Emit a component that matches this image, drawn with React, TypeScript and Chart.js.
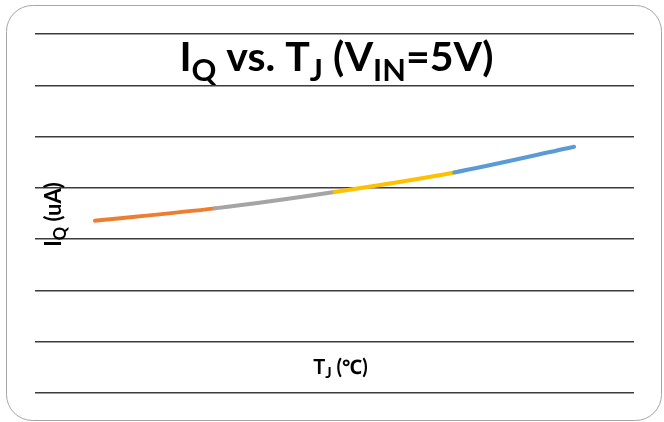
import React, { useEffect, useRef } from 'react';
import { Chart, registerables } from 'chart.js';

Chart.register(...registerables);

// ---- data ----
const categories = ['-40', '0', '40', '80', '125'];
const iqValues = [33.6, 36.0, 39.2, 43.0, 48.0];
const segmentColors = ['#ED7D31', '#A5A5A5', '#FFC000', '#5B9BD5'];
const yMin = 0;
const yMax = 70;
const yStep = 10;

type Part = { t: string; sub?: boolean };
const titleParts: Part[] = [
  { t: 'I' }, { t: 'Q', sub: true }, { t: ' vs. T' }, { t: 'J', sub: true },
  { t: ' (V' }, { t: 'IN', sub: true }, { t: '=5V)' },
];
const yLabelParts: Part[] = [{ t: 'I' }, { t: 'Q', sub: true }, { t: ' (uA)' }];
const xLabelParts: Part[] = [{ t: 'T' }, { t: 'J', sub: true }, { t: ' (℃)' }];

const FAMILY = 'Lato, "Noto Sans", "Noto Sans CJK SC", sans-serif';

function drawRich(
  ctx: CanvasRenderingContext2D,
  parts: Part[],
  size: number,
  cx: number,
  baseY: number,
  subRatio: number,
  subShift: number,
) {
  const subSize = size * subRatio;
  const widths = parts.map((p) => {
    ctx.font = `bold ${p.sub ? subSize : size}px ${FAMILY}`;
    return ctx.measureText(p.t).width;
  });
  const total = widths.reduce((a, b) => a + b, 0);
  let x = cx - total / 2;
  ctx.textAlign = 'left';
  ctx.textBaseline = 'alphabetic';
  parts.forEach((p, i) => {
    ctx.font = `bold ${p.sub ? subSize : size}px ${FAMILY}`;
    ctx.fillText(p.t, x, baseY + (p.sub ? subShift : 0));
    x += widths[i];
  });
}

const decorPlugin = {
  id: 'decor',
  beforeDraw(chart: any) {
    const ctx: CanvasRenderingContext2D = chart.ctx;
    ctx.save();
    ctx.fillStyle = '#ffffff';
    ctx.fillRect(0, 0, chart.width, chart.height);
    ctx.restore();
  },
  afterDraw(chart: any) {
    const ctx: CanvasRenderingContext2D = chart.ctx;
    const area = chart.chartArea;
    const cx = (area.left + area.right) / 2;
    const cy = (area.top + area.bottom) / 2;
    ctx.save();
    // rounded frame
    const x0 = 6.5, y0 = 5.5, x1 = 661.5, y1 = 420.5, r = 26;
    ctx.strokeStyle = '#a6a6a6';
    ctx.lineWidth = 1;
    ctx.beginPath();
    ctx.moveTo(x0 + r, y0);
    ctx.lineTo(x1 - r, y0);
    ctx.arcTo(x1, y0, x1, y0 + r, r);
    ctx.lineTo(x1, y1 - r);
    ctx.arcTo(x1, y1, x1 - r, y1, r);
    ctx.lineTo(x0 + r, y1);
    ctx.arcTo(x0, y1, x0, y1 - r, r);
    ctx.lineTo(x0, y0 + r);
    ctx.arcTo(x0, y0, x0 + r, y0, r);
    ctx.closePath();
    ctx.stroke();

    ctx.fillStyle = '#000000';
    // title
    drawRich(ctx, titleParts, 41, cx + 2, 71, 0.75, 10);
    // x label
    drawRich(ctx, xLabelParts, 20, cx + 6, 374, 0.75, 4);
    // y label (rotated)
    ctx.save();
    ctx.translate(61, cy + 1);
    ctx.rotate(-Math.PI / 2);
    drawRich(ctx, yLabelParts, 22, 0, 0, 0.75, 5);
    ctx.restore();
    ctx.restore();
  },
};

export default function App() {
  const ref = useRef<HTMLCanvasElement | null>(null);
  useEffect(() => {
    if (!ref.current) return;
    const chart = new Chart(ref.current, {
      type: 'line',
      data: {
        labels: categories,
        datasets: [
          {
            data: iqValues,
            borderWidth: 4,
            borderCapStyle: 'round',
            borderJoinStyle: 'round',
            pointRadius: 0,
            tension: 0.3,
            fill: false,
            borderColor: segmentColors[0],
            segment: {
              borderColor: (c: any) => segmentColors[c.p0DataIndex],
            },
          },
        ],
      },
      options: {
        animation: false,
        responsive: false,
        devicePixelRatio: 1,
        layout: { padding: { left: 35, right: 30, top: 34, bottom: 29 } },
        plugins: { legend: { display: false }, tooltip: { enabled: false }, title: { display: false } },
        scales: {
          x: {
            type: 'category',
            offset: true,
            display: false,
            grid: { display: false },
          },
          y: {
            min: yMin,
            max: yMax,
            ticks: { display: false, stepSize: yStep },
            grid: { color: '#3c3c3c', lineWidth: 1.5, drawTicks: false },
            border: { display: false },
          },
        },
      },
      plugins: [decorPlugin],
    } as any);
    return () => chart.destroy();
  }, []);
  return (
    <div style={{ position: 'absolute', left: 0, top: 0, width: 664, height: 422 }}>
      <canvas ref={ref} width={664} height={422} />
    </div>
  );
}
